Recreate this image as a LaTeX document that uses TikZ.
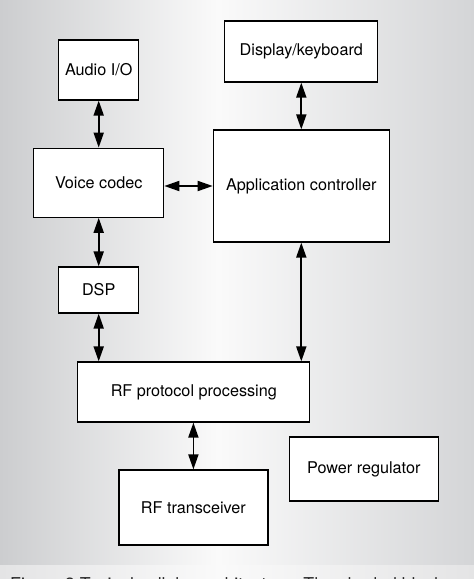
\documentclass[tikz,border=0pt]{standalone}
\usepackage{fontspec}
\setmainfont{TeX Gyre Heros}
\usetikzlibrary{arrows.meta}
\definecolor{bgL}{RGB}{204,205,207}
\definecolor{bgR}{RGB}{212,213,215}
\definecolor{bgM}{RGB}{250,250,250}
\definecolor{capL}{RGB}{228,228,229}
\tikzset{
  blk/.style={draw=black, line width=1.2pt, fill=white, inner sep=0pt,
    font=\fontsize{16.2}{19}\selectfont},
  link/.style={line width=1.8pt, {Triangle[length=15pt,width=10pt]}-{Triangle[length=15pt,width=10pt]}}
}
\begin{document}
\begin{tikzpicture}[x=1pt,y=-1pt]
\useasboundingbox (0,0) rectangle (474,579);
\clip (0,0) rectangle (474,579);
% background
\fill[left color=bgL, right color=bgM] (0,0) rectangle (218,565);
\fill[left color=bgM, right color=bgR] (218,0) rectangle (474,565);
\fill[left color=capL, right color=bgM] (0,565) rectangle (220,579);
\fill[left color=bgM, right color=capL] (220,565) rectangle (474,579);
% blocks
\node[blk, minimum width=80pt, minimum height=60pt] (audio) at (98.7,70) {Audio I/O};
\node[blk, minimum width=153pt, minimum height=61pt] (disp) at (301.3,51.5) {Display/keyboard};
\node[blk, minimum width=130pt, minimum height=69pt] (voice) at (98.7,182.7) {Voice codec};
\node[blk, minimum width=176pt, minimum height=112pt] (app) at (301.3,186) {Application controller};
\node[blk, minimum width=80pt, minimum height=46pt] (dsp) at (98.7,290) {DSP};
\node[blk, minimum width=232pt, minimum height=60pt] (rfp) at (193.8,392) {RF protocol processing};
\node[blk, minimum width=149pt, minimum height=75pt] (rft) at (193.4,507.5) {RF transceiver};
\node[blk, minimum width=149pt, minimum height=64pt] (pwr) at (363.8,469) {Power regulator};
% connectors
\draw[link] (audio.south) -- (voice.north);
\draw[link] (disp.south) -- (app.north);
\draw[link] (voice.east |- app.west) -- (app.west);
\draw[link] (voice.south) -- (dsp.north);
\draw[link] (dsp.south) -- (dsp.south |- rfp.north);
\draw[link] (app.south) -- (app.south |- rfp.north);
\draw[link] (rft.north |- rfp.south) -- (rft.north);
% caption (cut off at the bottom edge, as in the reference)
\node[anchor=base west, inner sep=0pt, text=black!85, font=\fontsize{17.7}{20}\selectfont] (cap) at (10,590) {Figure 3 Typical cellular architecture. The shaded blocks are the};
\end{tikzpicture}
\end{document}
